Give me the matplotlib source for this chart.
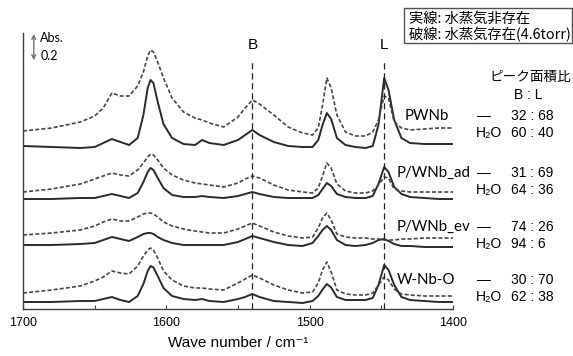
import matplotlib
matplotlib.use("Agg")
import matplotlib.pyplot as plt
from matplotlib.patches import Rectangle
from matplotlib.ticker import MultipleLocator

# wavenumber grid (cm-1)
wavenumber = [1700, 1680, 1660, 1650, 1644, 1638, 1632, 1626, 1620, 1616, 1613, 1611,
              1609, 1606, 1602, 1596, 1588, 1580, 1575, 1570, 1560, 1550, 1545, 1540,
              1535, 1525, 1515, 1505, 1498, 1494, 1491, 1488, 1485, 1481, 1475, 1468,
              1461, 1456, 1452, 1448, 1445, 1441, 1436, 1430, 1420, 1410, 1400]

# absorbance of each spectrum, relative to its own baseline
pwnb_dry = [0, -0.008, -0.016, -0.008, 0.024, 0.056, 0.032, 0.008, 0.064, 0.248, 0.464, 0.528,
            0.504, 0.352, 0.176, 0.064, 0.016, 0.008, 0.048, 0.024, 0.008, 0.048, 0.088, 0.128,
            0.088, 0.032, 0, -0.008, -0.008, 0.048, 0.17, 0.264, 0.216, 0.064, 0.008, -0.008,
            -0.016, 0, 0.168, 0.544, 0.448, 0.208, 0.064, 0.024, 0.016, 0.016, 0.016]
pwnb_wet = [0.12, 0.144, 0.192, 0.24, 0.304, 0.424, 0.4, 0.4, 0.48, 0.592, 0.72, 0.768,
            0.752, 0.672, 0.544, 0.384, 0.272, 0.224, 0.208, 0.184, 0.152, 0.232, 0.304, 0.368,
            0.336, 0.248, 0.152, 0.104, 0.088, 0.144, 0.328, 0.544, 0.464, 0.248, 0.112, 0.08,
            0.08, 0.112, 0.208, 0.4, 0.384, 0.192, 0.144, 0.128, 0.136, 0.144, 0.144]
ad_dry = [0, 0, 0.008, 0.008, 0.024, 0.04, 0.024, 0.008, 0.048, 0.136, 0.216, 0.248,
          0.232, 0.168, 0.088, 0.032, 0.016, 0.016, 0.024, 0.016, 0.008, 0.024, 0.04, 0.056,
          0.04, 0.016, 0.008, 0.008, 0.008, 0.032, 0.08, 0.128, 0.104, 0.04, 0.016, 0.008,
          0.008, 0.024, 0.12, 0.256, 0.216, 0.096, 0.04, 0.016, 0.008, 0, 0]
ad_wet = [0.056, 0.08, 0.12, 0.16, 0.184, 0.208, 0.192, 0.184, 0.232, 0.288, 0.336, 0.36,
          0.352, 0.312, 0.248, 0.192, 0.152, 0.128, 0.12, 0.112, 0.096, 0.128, 0.16, 0.184,
          0.168, 0.112, 0.072, 0.056, 0.048, 0.088, 0.184, 0.288, 0.248, 0.12, 0.064, 0.048,
          0.048, 0.064, 0.112, 0.176, 0.168, 0.08, 0.064, 0.056, 0.056, 0.056, 0.056]
ev_dry = [0, 0, 0.008, 0.016, 0.04, 0.064, 0.048, 0.032, 0.064, 0.088, 0.096, 0.096,
          0.088, 0.064, 0.04, 0.016, 0, 0, 0, 0, 0, 0.024, 0.048, 0.072,
          0.056, 0.024, 0, -0.008, 0.016, 0.072, 0.12, 0.152, 0.12, 0.04, 0, -0.008,
          0, 0.016, 0.04, 0.048, 0.032, 0.008, -0.008, -0.008, -0.016, -0.016, -0.016]
ev_wet = [0.08, 0.096, 0.12, 0.152, 0.184, 0.208, 0.192, 0.192, 0.224, 0.248, 0.256, 0.256,
          0.248, 0.224, 0.184, 0.152, 0.128, 0.112, 0.104, 0.096, 0.096, 0.128, 0.152, 0.176,
          0.152, 0.104, 0.072, 0.056, 0.064, 0.136, 0.216, 0.256, 0.2, 0.088, 0.064, 0.056,
          0.056, 0.048, 0.048, 0.04, 0.04, 0.04, 0.048, 0.048, 0.056, 0.056, 0.056]
wnbo_dry = [0, 0, 0.008, 0.008, 0.024, 0.04, 0.016, 0, 0.048, 0.144, 0.248, 0.288,
            0.276, 0.208, 0.112, 0.048, 0.024, 0.016, 0.024, 0.008, 0, 0.024, 0.04, 0.064,
            0.04, 0.008, 0, -0.008, 0.008, 0.048, 0.1, 0.144, 0.116, 0.04, 0.016, 0.016,
            0.016, 0.032, 0.136, 0.296, 0.256, 0.136, 0.04, 0.016, 0.008, 0, 0]
wnbo_wet = [0.072, 0.096, 0.128, 0.168, 0.2, 0.248, 0.232, 0.224, 0.288, 0.368, 0.416, 0.432,
            0.416, 0.352, 0.248, 0.176, 0.128, 0.112, 0.112, 0.104, 0.096, 0.152, 0.184, 0.216,
            0.192, 0.136, 0.096, 0.072, 0.08, 0.152, 0.256, 0.32, 0.24, 0.096, 0.064, 0.056,
            0.056, 0.072, 0.136, 0.2, 0.176, 0.104, 0.064, 0.056, 0.048, 0.048, 0.048]

samples = ["PWNb", "P/WNb_ad", "P/WNb_ev", "W-Nb-O"]
dry = [pwnb_dry, ad_dry, ev_dry, wnbo_dry]
wet = [pwnb_wet, ad_wet, ev_wet, wnbo_wet]
ratio_dry = ["32 : 68", "31 : 69", "74 : 26", "30 : 70"]
ratio_wet = ["60 : 40", "64 : 36", "94 : 6", "62 : 38"]
offsets = [1.304, 0.88, 0.512, 0.056]
band_b = 1540
band_l = 1448

W, H = 573, 356
fig = plt.figure(figsize=(W / 100, H / 100), dpi=100)
ax = fig.add_axes([23 / W, 1 - 309 / H, 430 / W, 276 / H])

def fx(x, y):
    return x / W, 1 - y / H

num_font = ["Liberation Sans", "DejaVu Sans"]
jp_font = ["Noto Sans CJK JP", "DejaVu Sans"]
lab_font = ["Lato", "DejaVu Sans"]

for d, w, off in zip(dry, wet, offsets):
    ax.plot(wavenumber, [v + off for v in d], color="#2a2a2a", lw=1.4,
            solid_joinstyle="round")
    ax.plot(wavenumber, [v + off for v in w], color="#454545", lw=1.2, dashes=(2.4, 1.3))

for wn, name in [(band_b, "B"), (band_l, "L")]:
    ax.plot([wn, wn], [0, 1.99], color="#202020", lw=0.9, dashes=(5, 3))
    ax.text(wn, 2.11, name, ha="center", va="center", fontsize=11, family=num_font)

# Abs scale arrow
ax.annotate("", xy=(1692.5, 1.99), xytext=(1692.5, 2.2),
            arrowprops=dict(arrowstyle="<->", color="#707070", lw=1.0,
                            shrinkA=0, shrinkB=0, mutation_scale=7), annotation_clip=False)
ax.text(1688, 2.165, "Abs.", fontsize=9, va="center", family=lab_font)
ax.text(1688, 2.02, "0.2", fontsize=9, va="center", family=lab_font)

ax.set_xlim(1700, 1400)
ax.set_ylim(0, 2.208)
ax.xaxis.set_major_locator(MultipleLocator(100))
ax.xaxis.set_minor_locator(MultipleLocator(50))
ax.tick_params(axis="x", which="both", direction="in", length=3, width=0.8,
               colors="#404040", labelcolor="black", labelsize=9, pad=6)
ax.set_yticks([])
for s in ["top", "right"]:
    ax.spines[s].set_visible(False)
for s in ["left", "bottom"]:
    ax.spines[s].set_color("#404040")
    ax.spines[s].set_linewidth(1.0)
for t in ax.get_xticklabels():
    t.set_family(num_font)
ax.set_xlabel("Wave number / cm⁻¹", fontsize=11, family=num_font, labelpad=5)

# legend box
fig.patches.append(Rectangle(fx(404, 43), 168 / W, 35 / H, transform=fig.transFigure,
                             fill=False, edgecolor="#505050", lw=1.0))
fig.text(*fx(409, 19), "実線: 水蒸気非存在", fontsize=10.3, va="center", family=jp_font)
fig.text(*fx(409, 35), "破線: 水蒸気存在(4.6torr)", fontsize=10.3, va="center", family=jp_font)

fig.text(*fx(530, 77), "ピーク面積比", fontsize=9.8, ha="center", va="center", family=jp_font)
fig.text(*fx(528, 95), "B : L", fontsize=10, ha="center", va="center", family=num_font)

label_x = [405, 397, 397, 397]
row_y = [116, 173, 227, 280]
for name, lx, ry, rd, rw in zip(samples, label_x, row_y, ratio_dry, ratio_wet):
    fig.text(*fx(lx, ry), name, fontsize=10.8, va="center", family=lab_font)
    fig.text(*fx(484, ry), "—", fontsize=10, ha="center", va="center", family=num_font)
    fig.text(*fx(511, ry), rd, fontsize=10, va="center", family=num_font)
    fig.text(*fx(476, ry + 17), "H₂O", fontsize=10, va="center", family=num_font)
    fig.text(*fx(511, ry + 17), rw, fontsize=10, va="center", family=num_font)

fig.savefig("out.png", dpi=100)
